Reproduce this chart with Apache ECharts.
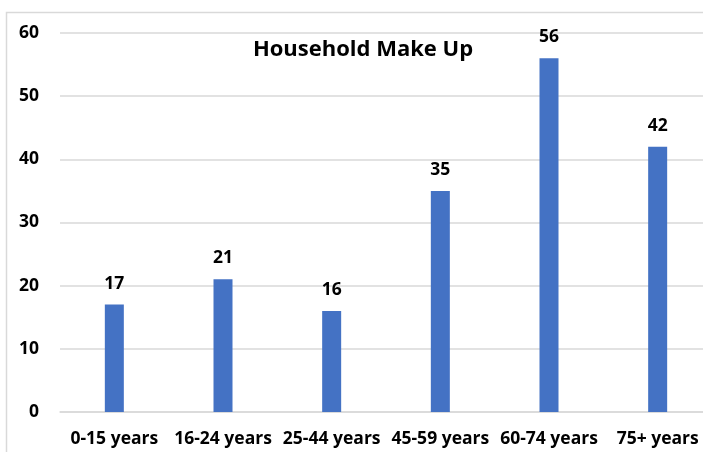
<!DOCTYPE html>
<html>
<head>
<meta charset="utf-8">
<script src="https://cdn.jsdelivr.net/npm/echarts@6/dist/echarts.min.js"></script>
<style>
  html, body { margin: 0; padding: 0; background: #fff; }
  #chart { width: 703px; height: 452px; }
</style>
</head>
<body>
<div id="chart"></div>
<script>
// categories and values
const ageGroups = ['0-15 years', '16-24 years', '25-44 years', '45-59 years', '60-74 years', '75+ years']
const households = [17, 21, 16, 35, 56, 42]
const yTicks = { min: 0, max: 60, step: 10 }

const myChart = echarts.init(document.querySelector('#chart'))
const font = '"Open Sans", Lato, sans-serif'

const option = {
    animation: false,
    title: {
        text: 'Household Make Up',
        left: 358,
        top: 34,
        textAlign: 'center',
        textStyle: { fontFamily: font, fontSize: 22, fontWeight: 'bold', color: '#000' }
    },
    graphic: [{
        // outer chart frame
        type: 'rect',
        shape: { x: 6.5, y: 12.5, width: 720, height: 460 },
        style: { fill: 'none', stroke: '#d9d9d9', lineWidth: 1.5 },
        silent: true
    }],
    grid: { left: 60, top: 33, width: 652, height: 379, outerBoundsMode: 'none', containLabel: false },
    xAxis: {
        type: 'category',
        data: ageGroups,
        axisTick: { show: false },
        axisLine: { lineStyle: { color: '#d9d9d9', width: 1.5 } },
        axisLabel: { fontFamily: font, fontSize: 17.5, fontWeight: 'bold', color: '#000', margin: 18, interval: 0 }
    },
    yAxis: {
        type: 'value',
        min: yTicks.min,
        max: yTicks.max,
        interval: yTicks.step,
        axisLine: { show: false },
        axisTick: { show: false },
        splitLine: { lineStyle: { color: '#d9d9d9', width: 1.5 } },
        axisLabel: { fontFamily: font, fontSize: 17.5, fontWeight: 'bold', color: '#000', margin: 21 }
    },
    series: [{
        type: 'bar',
        data: households,
        barWidth: 19,
        itemStyle: { color: '#4472C4' },
        label: {
            show: true,
            position: 'top',
            distance: 12,
            fontFamily: font,
            fontSize: 17.5,
            fontWeight: 'bold',
            color: '#000'
        }
    }]
}
myChart.setOption(option)
</script>
</body>
</html>
